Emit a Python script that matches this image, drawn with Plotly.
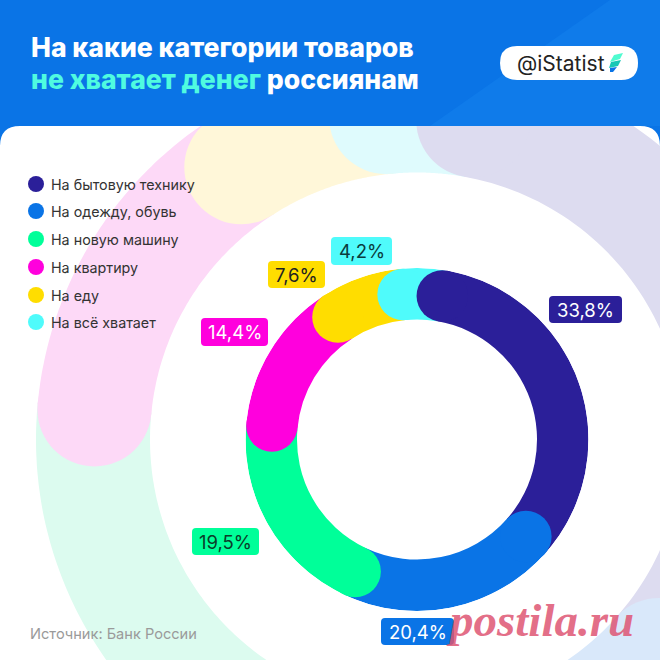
import numpy as np
import plotly.graph_objects as go

# data
categories = ["На бытовую технику", "На одежду, обувь", "На новую машину",
              "На квартиру", "На еду", "На всё хватает"]
values = [33.8, 20.4, 19.5, 14.4, 7.6, 4.2]
value_labels = ["33,8%", "20,4%", "19,5%", "14,4%", "7,6%", "4,2%"]

colors = ["#2b1f99", "#0a74e6", "#00ff99", "#ff00dd", "#ffdd00", "#4ffbfb"]
pale_colors = ["#dddcf0", "#d9e8fa", "#dcfbef", "#fdd9f7", "#fff7d9", "#dffbfd"]
label_text_colors = ["white", "white", "#0b3d2a", "white", "#222222", "#0b3d3d"]

# pill boxes for the value labels (x0, x1, y0, y1 in px)
label_boxes = [(549, 622, 296, 323), (381, 454, 618, 645), (192, 259, 528, 555),
               (201, 268, 318, 346), (268, 325, 261, 288), (331, 392, 237, 265)]
legend_y = [184, 211, 239, 267, 295, 322]

# geometry
cx, cy = 417, 439.5
r_out, r_in = 171.5, 120
ring_out, ring_in = 381, 267
angle_shift = 10  # round caps reach back to the real boundary

starts = np.cumsum([0] + values[:-1]) * 3.6 + angle_shift
widths = np.array(values) * 3.6


def rounded_box(x0, x1, y0, y1, r=4):
    return (f"M{x0+r},{y0} H{x1-r} Q{x1},{y0} {x1},{y0+r} V{y1-r} Q{x1},{y1} {x1-r},{y1} "
            f"H{x0+r} Q{x0},{y1} {x0},{y1-r} V{y0+r} Q{x0},{y0} {x0+r},{y0} Z")


def ring_wedge(a0, a1):
    # annular sector as a path, angles clockwise from the top
    t = np.radians(np.linspace(a0, a1, 80))
    outer = [(cx + ring_out * np.sin(a), cy - ring_out * np.cos(a)) for a in t]
    inner = [(cx + ring_in * np.sin(a), cy - ring_in * np.cos(a)) for a in t[::-1]]
    pts = outer + inner
    return "M" + " L".join(f"{x:.1f},{y:.1f}" for x, y in pts) + " Z"


shapes = []


def add_path(path, fill, layer="below"):
    shapes.append(dict(type="path", path=path, fillcolor=fill, line_width=0,
                       xref="x", yref="y", layer=layer))


# white card
add_path("M0,660 V146 Q0,126 20,126 H640 Q660,126 660,146 V660 Z", "white")

# pale echo of the donut behind everything
for start, width, pale in zip(starts, widths, pale_colors):
    add_path(ring_wedge(start, start + width + 0.5), pale)
for start, pale in zip(starts[::-1], pale_colors[::-1]):
    mid = (ring_out + ring_in) / 2
    half = (ring_out - ring_in) / 2
    a = np.radians(start)
    mx, my = cx + mid * np.sin(a), cy - mid * np.cos(a)
    shapes.append(dict(type="circle", x0=mx - half, x1=mx + half, y0=my - half, y1=my + half,
                       fillcolor=pale, line_width=0, xref="x", yref="y", layer="below"))

# header on top of the ring, with the card corners cut out of it
add_path("M0,0 H660 V146 Q660,126 640,126 H20 Q0,126 0,146 Z", "#0a74e6")
add_path("M430,126 L610,0 H660 V126 Z", "#0f7bea")

# logo pill and its little mark
add_path(rounded_box(500, 638, 46, 80, r=17), "white")
add_path("M614,55 L623,53 L620,59 L610,62 Z", "#4ffbd0")
add_path("M611,62 L621,60 L618,66 L609,68 Z", "#17c7b5")
add_path("M610,68 L617,67 L613,72 L610,72 Z", "#0a74e6")

# value label pills
for box, color in zip(label_boxes, colors):
    add_path(rounded_box(*box), color, layer="above")

fig = go.Figure()

# donut segments
fig.add_trace(go.Barpolar(
    theta=starts + widths / 2,
    width=widths,
    base=r_in,
    r=[r_out - r_in] * len(values),
    marker=dict(color=colors, line_width=0),
    hoverinfo="skip",
    showlegend=False,
))

# round caps at the start of each segment, first segment drawn last so it sits on top
fig.add_trace(go.Scatterpolar(
    theta=starts[::-1],
    r=[(r_out + r_in) / 2] * len(values),
    mode="markers",
    marker=dict(color=colors[::-1], size=r_out - r_in, line_width=0),
    hoverinfo="skip",
    showlegend=False,
))

# legend dots
fig.add_trace(go.Scatter(
    x=[36] * len(categories),
    y=legend_y,
    mode="markers",
    marker=dict(color=colors, size=16, line_width=0),
    hoverinfo="skip",
    showlegend=False,
))

annotations = []


def add_text(x, y, text, size, color, anchor="left", family="Inter", **font_kw):
    annotations.append(dict(x=x, y=y, xref="x", yref="y", text=text, showarrow=False,
                            xanchor=anchor, yanchor="middle",
                            font=dict(size=size, color=color, family=family, **font_kw)))


add_text(29, 47, "На какие категории товаров", 26.6, "white", weight=800)
add_text(29, 79, "<span style='color:#4ffbe0'>не хватает денег</span> россиянам", 26.6, "white", weight=800)
add_text(515, 63, "@iStatist", 21, "#222222")

for name, y in zip(categories, legend_y):
    add_text(49, y, name, 14.3, "#333333")

for text, box, color in zip(value_labels, label_boxes, label_text_colors):
    add_text((box[0] + box[1]) / 2, (box[2] + box[3]) / 2, text, 18.5, color, anchor="center")

add_text(28, 634, "Источник: Банк России", 14.6, "#9a9a9a")
add_text(444, 620, "postila.ru", 47, "rgba(222,85,115,0.85)", family="Liberation Serif",
         weight=700, style="italic")

fig.update_layout(
    width=660,
    height=660,
    margin=dict(l=0, r=0, t=0, b=0),
    paper_bgcolor="white",
    plot_bgcolor="rgba(0,0,0,0)",
    xaxis=dict(range=[0, 660], visible=False, fixedrange=True),
    yaxis=dict(range=[660, 0], visible=False, fixedrange=True),
    polar=dict(
        domain=dict(x=[(cx - r_out) / 660, (cx + r_out) / 660],
                    y=[(660 - cy - r_out) / 660, (660 - cy + r_out) / 660]),
        bgcolor="rgba(0,0,0,0)",
        radialaxis=dict(range=[0, r_out], visible=False),
        angularaxis=dict(rotation=90, direction="clockwise", visible=False),
    ),
    shapes=shapes,
    annotations=annotations,
)

# page has a default body margin that would push the chart off the window
fig.write_html("out.html", config=dict(displayModeBar=False),
               post_script="document.body.style.margin='0';")
